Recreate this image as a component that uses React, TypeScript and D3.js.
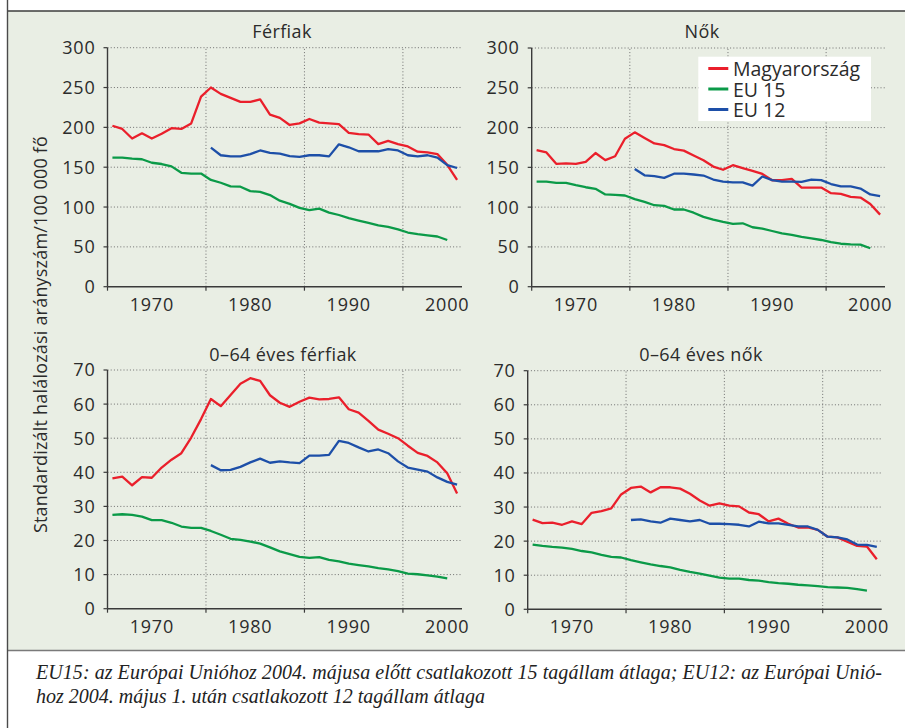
import React from "react";
import * as d3 from "d3";

const HU_START = 1966;
const EU15_START = 1966;
const EU12_START = 1976;

const panelTitles = ["Férfiak", "Nők", "0–64 éves férfiak", "0–64 éves nők"];
const seriesNames = ["Magyarország", "EU 15", "EU 12"];
const xTickLabels = [1970, 1980, 1990, 2000];
const xGridYears = [1965.5, 1975.5, 1985.5, 1995.5];
const yTicksAll = [0, 50, 100, 150, 200, 250, 300];
const yTicks064 = [0, 10, 20, 30, 40, 50, 60, 70];

const menHU = [202, 198, 186, 192.5, 186, 192, 199, 198, 205, 238.5, 250, 242, 237, 232, 232, 235, 216, 212, 203, 205, 210.5, 206, 205, 204, 193, 191.6, 191, 179, 183, 179, 176, 169.5, 168.6, 166.5, 153, 134];
const menEU15 = [162, 162, 160.7, 160, 155.6, 154, 151, 143, 142, 142, 134, 130.5, 126, 125.5, 120, 119, 115, 108, 104, 99, 96, 98, 93, 90, 86, 83, 80, 77, 75, 72, 68, 66, 64.4, 63, 58.6];
const menEU12 = [174.5, 165, 163.6, 163.6, 166.5, 171, 168, 167, 164, 163, 165, 165, 163.6, 178.7, 175, 170, 170, 170, 172.8, 171, 165, 163.6, 165, 162, 152.7, 149];

const womenHU = [171.6, 168.7, 154.4, 155, 154.4, 157, 168, 159, 164, 186, 194, 187, 180, 178, 173, 171, 165, 159, 151, 147, 152.7, 149, 145.6, 141.8, 133.8, 134, 135.5, 124.6, 124.6, 124.6, 117.5, 116.6, 112.9, 112, 104, 90.6];
const womenEU15 = [132, 132, 130.5, 130.5, 127.6, 125, 123, 116, 115.4, 114.6, 110, 106.6, 102.4, 101.5, 97, 97, 93, 87.7, 84.3, 81.4, 79, 79.7, 74.7, 73, 70, 67, 65, 62.5, 60.8, 58.7, 56, 54, 53.3, 52.9, 48.3];
const womenEU12 = [148, 140, 139, 136.8, 142, 142, 141, 139.7, 134.7, 132, 131, 131, 127, 138.5, 134, 132, 132, 131.8, 134.7, 134, 129, 126, 126, 123.4, 116, 113.7];

const men064HU = [38.2, 38.7, 36.2, 38.6, 38.4, 41.4, 43.7, 45.6, 50.2, 55.6, 61.5, 59.4, 62.7, 66, 67.6, 66.8, 62.6, 60.4, 59.2, 60.7, 61.9, 61.4, 61.5, 62, 58.5, 57.5, 55.1, 52.5, 51.3, 50, 47.8, 45.7, 44.8, 42.9, 39.7, 33.8];
const men064EU15 = [27.5, 27.7, 27.5, 27, 26, 26, 25.2, 24.1, 23.7, 23.7, 22.8, 21.7, 20.5, 20.2, 19.7, 19.1, 18, 16.8, 16, 15.2, 14.9, 15.1, 14.3, 13.9, 13.2, 12.8, 12.4, 11.9, 11.5, 11, 10.3, 10.1, 9.8, 9.4, 8.9];
const men064EU12 = [42.1, 40.6, 40.7, 41.6, 42.9, 44, 42.8, 43.2, 42.9, 42.7, 44.9, 44.9, 45.1, 49.2, 48.6, 47.3, 46.1, 46.7, 45.6, 43.2, 41.4, 40.8, 40.2, 38.5, 37.2, 36.4];

const women064HU = [26.3, 25.3, 25.4, 24.8, 25.8, 25, 28.3, 28.8, 29.6, 33.7, 35.6, 36, 34.3, 35.8, 35.8, 35.4, 33.9, 31.9, 30.4, 31.1, 30.4, 30.2, 28.4, 27.9, 25.8, 26.6, 25.1, 24, 24, 23.3, 21.3, 21.1, 19.8, 18.6, 18.4, 14.7];
const women064EU15 = [19, 18.6, 18.3, 18.1, 17.7, 17.1, 16.7, 16, 15.4, 15.2, 14.4, 13.8, 13.2, 12.7, 12.3, 11.6, 11, 10.5, 9.9, 9.3, 9, 9, 8.6, 8.4, 8, 7.7, 7.5, 7.2, 7, 6.8, 6.5, 6.4, 6.3, 5.9, 5.5];
const women064EU12 = [26.2, 26.4, 25.8, 25.4, 26.6, 26.2, 25.8, 26.2, 25.1, 25.1, 25, 24.8, 24.3, 25.7, 25.2, 25.2, 24.8, 24.3, 24.3, 23.3, 21.3, 21.1, 20.5, 19, 18.9, 18.3];

const yLabel = "Standardizált halálozási arányszám/100 000 fő";
const footLine1 = "EU15: az Európai Unióhoz 2004. májusa előtt csatlakozott 15 tagállam átlaga; EU12: az Európai Unió-";
const footLine2 = "hoz 2004. május 1. után csatlakozott 12 tagállam átlaga";

const COLORS = ["#ea1f2b", "#0b9a48", "#1d4fa8"];
const FONT = "'Open Sans', 'Noto Sans', sans-serif";
const TEXT = "#2b2b2b";

type Panel = {
  title: string;
  hu: number[];
  eu15: number[];
  eu12: number[];
  ticks: number[];
  x0: number;
  x1: number;
  yTop: number;
  yBot: number;
  titleX: number;
  titleY: number;
  legend?: boolean;
};

const panels: Panel[] = [
  { title: panelTitles[0], hu: menHU, eu15: menEU15, eu12: menEU12, ticks: yTicksAll, x0: 107.5, x1: 462, yTop: 47.7, yBot: 286.7, titleX: 282, titleY: 37.5 },
  { title: panelTitles[1], hu: womenHU, eu15: womenEU15, eu12: womenEU12, ticks: yTicksAll, x0: 531.7, x1: 885, yTop: 48, yBot: 286.7, titleX: 702, titleY: 37.5, legend: true },
  { title: panelTitles[2], hu: men064HU, eu15: men064EU15, eu12: men064EU12, ticks: yTicks064, x0: 107.5, x1: 462, yTop: 370, yBot: 608.7, titleX: 283, titleY: 360.5 },
  { title: panelTitles[3], hu: women064HU, eu15: women064EU15, eu12: women064EU12, ticks: yTicks064, x0: 527.7, x1: 881.7, yTop: 370.7, yBot: 609.3, titleX: 701, titleY: 360.5 },
];

function PanelView({ p }: { p: Panel }) {
  const x = d3.scaleLinear().domain([1965.5, 2001.5]).range([p.x0, p.x1]);
  const yMax = p.ticks[p.ticks.length - 1];
  const y = d3.scaleLinear().domain([0, yMax]).range([p.yBot, p.yTop]);
  const line = d3
    .line<{ yr: number; v: number }>()
    .x((d) => x(d.yr))
    .y((d) => y(d.v));
  const toPts = (arr: number[], start: number) => arr.map((v, i) => ({ yr: start + i, v }));
  const series = [
    { data: toPts(p.hu, HU_START), color: COLORS[0] },
    { data: toPts(p.eu15, EU15_START), color: COLORS[1] },
    { data: toPts(p.eu12, EU12_START), color: COLORS[2] },
  ];
  return (
    <g>
      <text x={p.titleX} y={p.titleY} textAnchor="middle" fontFamily={FONT} fontSize={18} letterSpacing={0.4} fill={TEXT}>
        {p.title}
      </text>
      {p.ticks.filter((t) => t > 0).map((t) => (
        <line key={"hg" + t} x1={p.x0} x2={p.x1} y1={y(t)} y2={y(t)} stroke="#6f6f6f" strokeWidth={1} strokeDasharray="1 2.2" />
      ))}
      {xGridYears.filter((g) => g > 1966).map((g) => (
        <line key={"vg" + g} x1={x(g)} x2={x(g)} y1={p.yBot} y2={p.yTop} stroke="#6f6f6f" strokeWidth={1} strokeDasharray="1 2.2" />
      ))}
      {p.legend && (
        <g>
          <rect x={698.3} y={56.7} width={172.7} height={64.3} fill="#ffffff" />
          {seriesNames.map((n, i) => (
            <g key={n}>
              <line x1={708.3} x2={728.3} y1={68.5 + i * 20.5} y2={68.5 + i * 20.5} stroke={COLORS[i]} strokeWidth={3} />
              <text x={733} y={68.5 + i * 20.5 + 7.5} fontFamily={FONT} fontSize={19.5} fill={TEXT}>
                {n}
              </text>
            </g>
          ))}
        </g>
      )}
      {series.map((s, i) => (
        <path key={i} d={line(s.data) || ""} fill="none" stroke={s.color} strokeWidth={2.3} strokeLinejoin="round" />
      ))}
      <line x1={p.x0} x2={p.x0} y1={p.yTop} y2={p.yBot} stroke="#3a3a3a" strokeWidth={1.4} />
      <line x1={p.x0} x2={p.x1} y1={p.yBot} y2={p.yBot} stroke="#3a3a3a" strokeWidth={1.4} />
      {p.ticks.map((t) => (
        <g key={"yt" + t}>
          <line x1={p.x0 - 4} x2={p.x0} y1={y(t)} y2={y(t)} stroke="#3a3a3a" strokeWidth={1.2} />
          <text x={p.x0 - 12} y={y(t)} dy="0.36em" textAnchor="end" fontFamily={FONT} fontSize={18} letterSpacing={0.8} fill={TEXT}>
            {t}
          </text>
        </g>
      ))}
      {xGridYears.map((g) => (
        <line key={"xt" + g} x1={x(g)} x2={x(g)} y1={p.yBot} y2={p.yBot + 4} stroke="#3a3a3a" strokeWidth={1.2} />
      ))}
      {xTickLabels.map((t) => (
        <text key={"xl" + t} x={x(t)} y={p.yBot + 24} textAnchor="middle" fontFamily={FONT} fontSize={18} letterSpacing={0.8} fill={TEXT}>
          {t}
        </text>
      ))}
    </g>
  );
}

export default function App() {
  return (
    <svg width={905} height={728} style={{ position: "absolute", left: 0, top: 0, display: "block" }}>
      <rect x={0} y={0} width={905} height={728} fill="#ffffff" />
      <rect x={7.5} y={11} width={897.5} height={640} fill="#e9eee4" />
      <line x1={7.5} x2={905} y1={11} y2={11} stroke="#3c3c3c" strokeWidth={1.6} />
      <line x1={7.5} x2={905} y1={650.5} y2={650.5} stroke="#7a7a7a" strokeWidth={1.6} />
      <line x1={7.5} x2={7.5} y1={0} y2={728} stroke="#4a4a4a" strokeWidth={1.4} />
      {panels.map((p, i) => (
        <PanelView key={i} p={p} />
      ))}
      <text
        transform="translate(47,334.5) rotate(-90)"
        textAnchor="middle"
        fontFamily={FONT}
        fontSize={18}
        letterSpacing={0.2}
        fill={TEXT}
      >
        {yLabel}
      </text>
      <text x={36} y={679} fontFamily="'Liberation Serif', serif" fontStyle="italic" fontSize={20} fill="#222" textLength={846} lengthAdjust="spacing">
        {footLine1}
      </text>
      <text x={36} y={703} fontFamily="'Liberation Serif', serif" fontStyle="italic" fontSize={20} fill="#222">
        {footLine2}
      </text>
    </svg>
  );
}
